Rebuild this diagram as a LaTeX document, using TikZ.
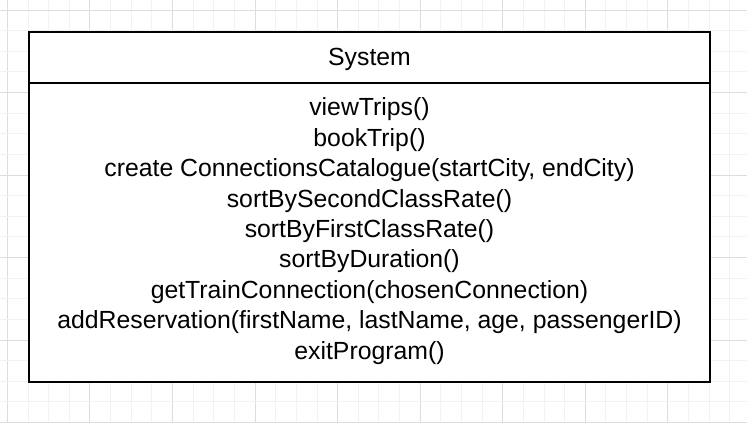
\documentclass[tikz,border=0pt]{standalone}
\usepackage{fontspec}
\setmainfont{Liberation Sans}
\definecolor{gridminor}{HTML}{F2F2F2}
\definecolor{gridmajor}{HTML}{DDDDDD}

\begin{document}
\begin{tikzpicture} [x = 0.5pt, y = -0.5pt]
\useasboundingbox (0, 0) rectangle (747, 423);
\fill[white] (0, 0) rectangle (747, 423);
% grid
\foreach \i in {0,...,36} {
  \pgfmathsetmacro{\gx}{7.4 + 20.64*\i}
  \pgfmathtruncatemacro{\m}{mod(\i - 4, 4) == 0}
  \ifnum\m=1 \draw[gridmajor, line width = 0.5pt] (\gx, 0) -- (\gx, 423);
  \else \draw[gridminor, line width = 0.5pt] (\gx, 0) -- (\gx, 423); \fi
}
\foreach \j in {0,...,20} {
  \pgfmathsetmacro{\gy}{10 + 20.63*\j}
  \pgfmathtruncatemacro{\m}{mod(\j, 4) == 0}
  \ifnum\m=1 \draw[gridmajor, line width = 0.5pt] (0, \gy) -- (747, \gy);
  \else \draw[gridminor, line width = 0.5pt] (0, \gy) -- (747, \gy); \fi
}
% class box
\draw[fill = white, line width = 1pt] (29, 32) rectangle (710, 382);
\draw[line width = 1pt] (29, 83) -- (710, 83);
\node[font = \fontsize{12.4}{15.2}\selectfont] (title) at (369.5, 59.5){System};
\node[font = \fontsize{12.4}{15.2}\selectfont, align = center, inner sep = 0pt] (methods) at (369.5, 231){viewTrips()\\
bookTrip()\\
create ConnectionsCatalogue(startCity, endCity)\\
sortBySecondClassRate()\\
sortByFirstClassRate()\\
sortByDuration()\\
getTrainConnection(chosenConnection)\\
addReservation(firstName, lastName, age, passengerID)\\
exitProgram()};
\end{tikzpicture}
\end{document}
